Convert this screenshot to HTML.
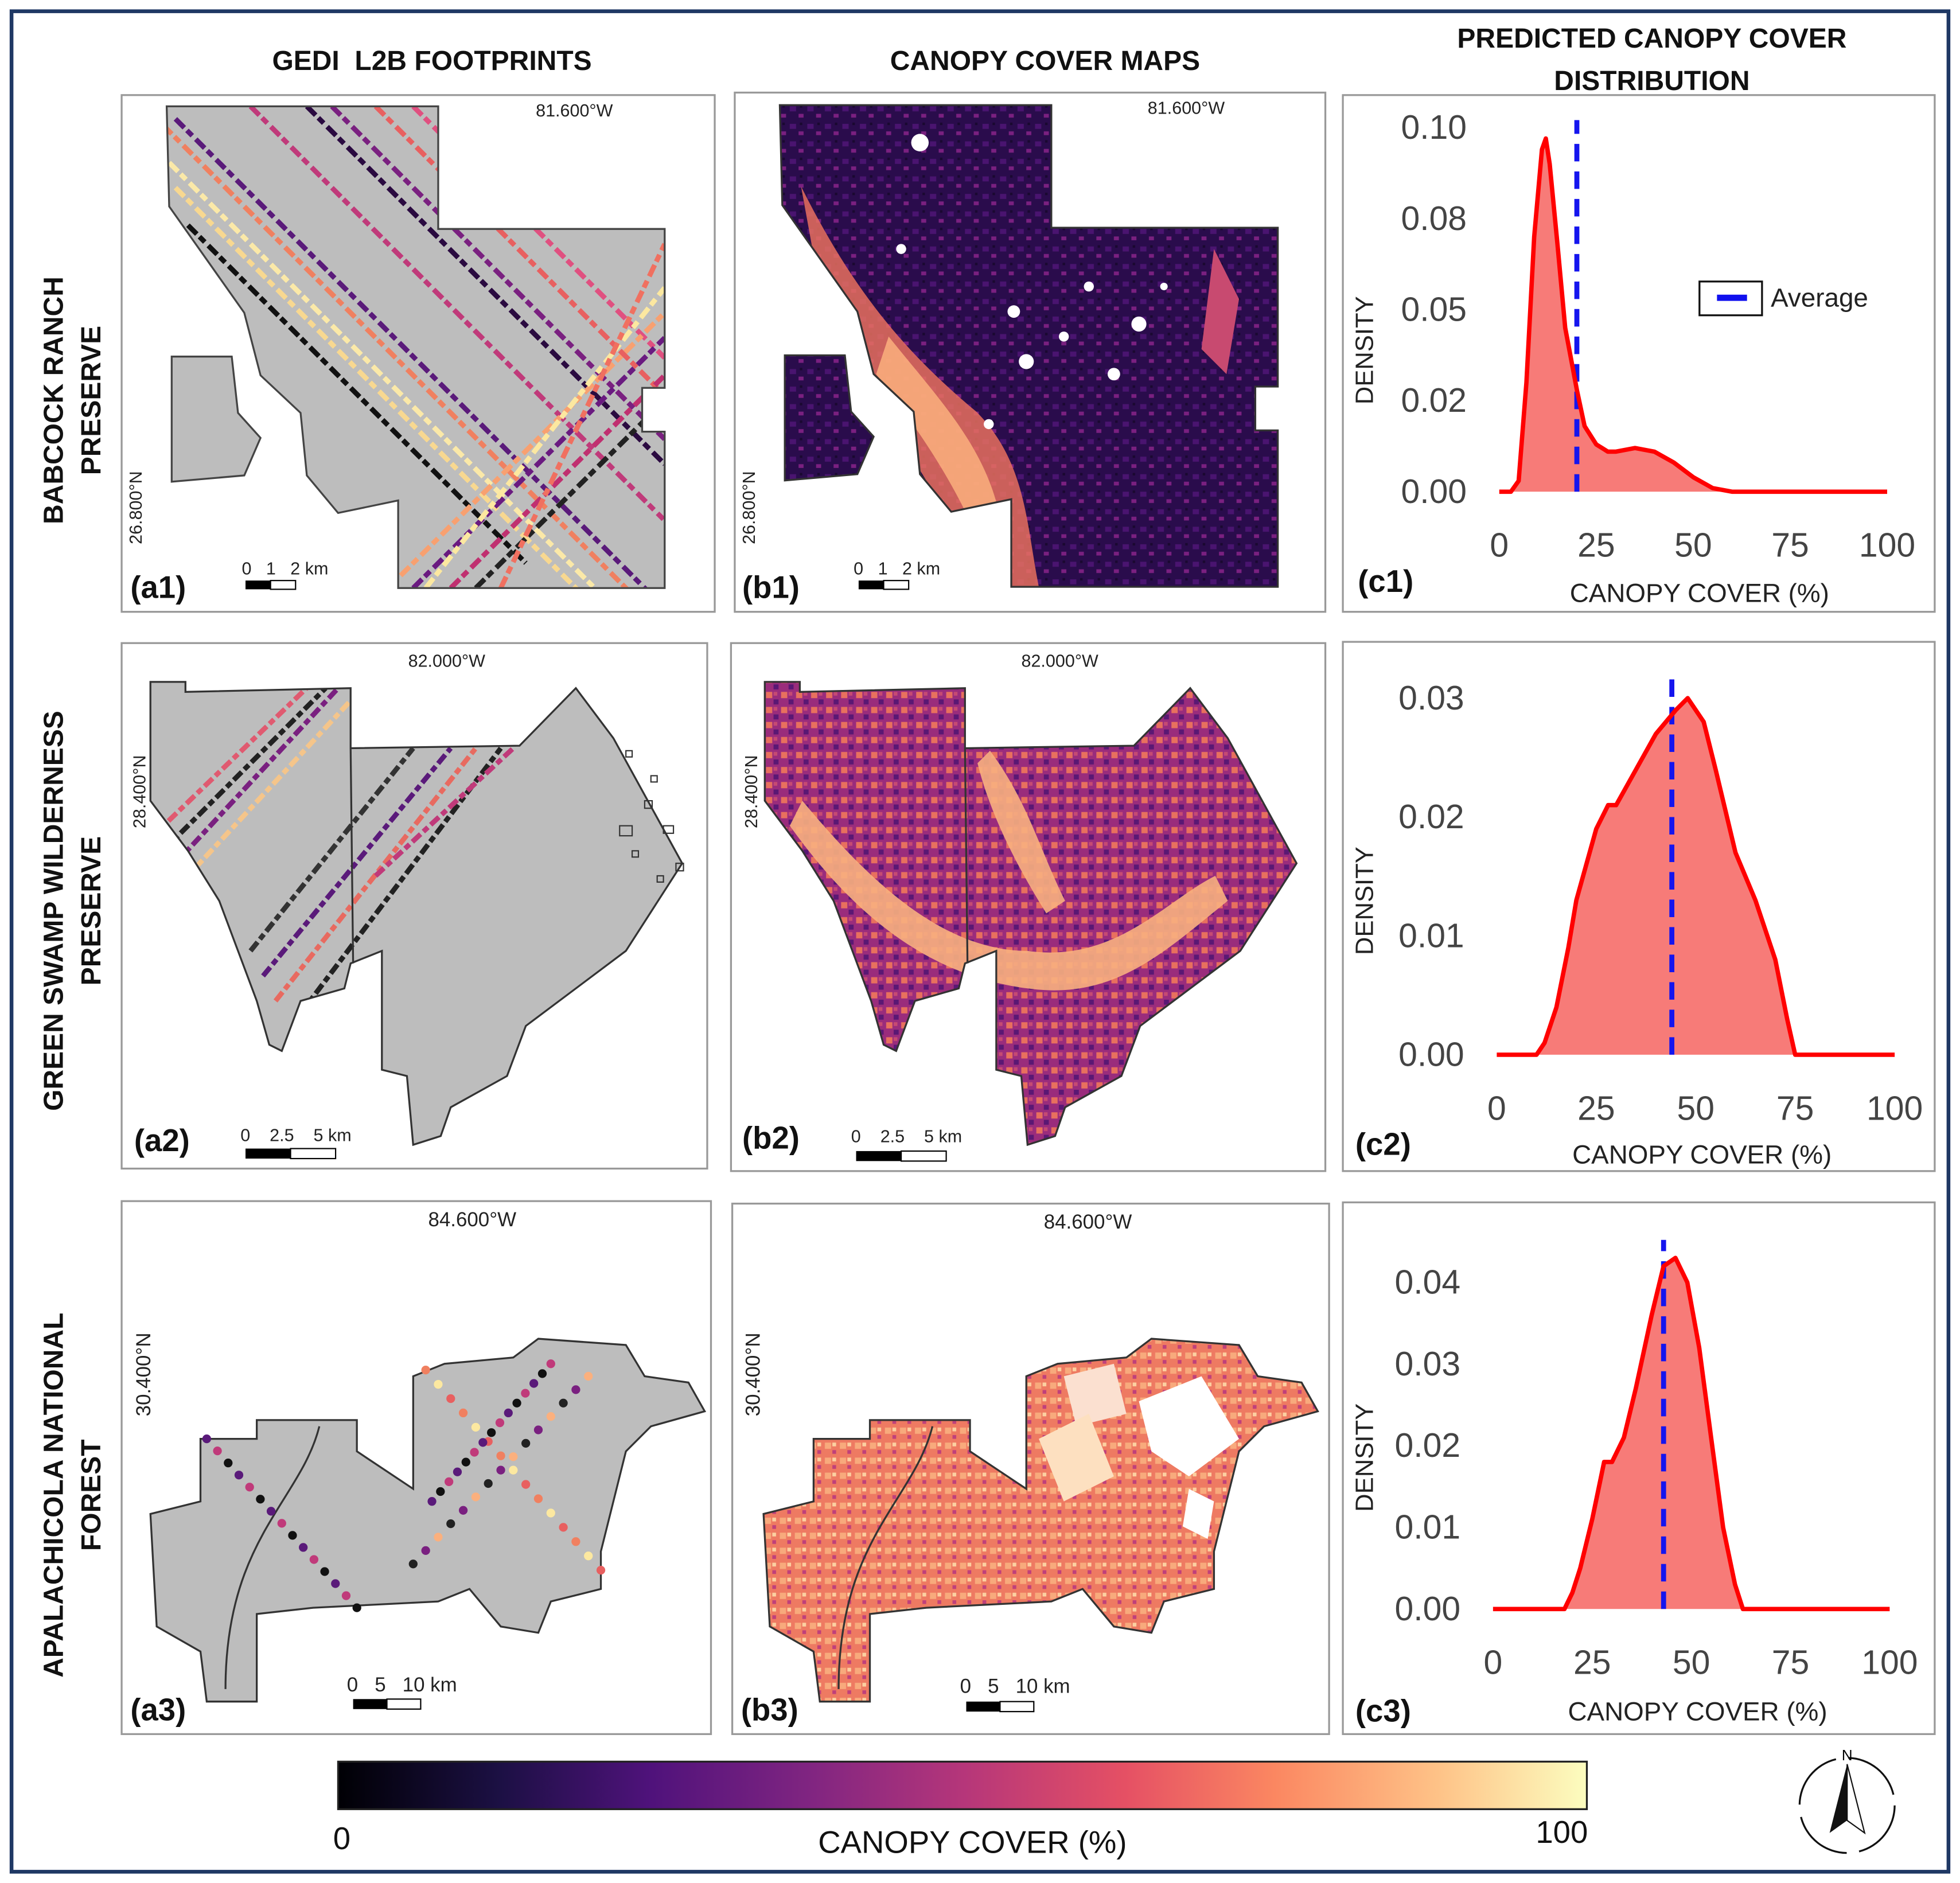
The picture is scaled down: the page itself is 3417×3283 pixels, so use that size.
<!DOCTYPE html>
<html><head><meta charset="utf-8"><style>
html,body{margin:0;padding:0;background:#fff}
svg{display:block}
text{font-family:"Liberation Sans",sans-serif;white-space:pre}
</style></head><body>
<svg id="fig" width="3417" height="3283" viewBox="0 0 1566 1505" xmlns="http://www.w3.org/2000/svg">
<defs>
<linearGradient id="magma" x1="0" x2="1" y1="0" y2="0">
<stop offset="0" stop-color="#000004"/><stop offset="0.13" stop-color="#1c1044"/><stop offset="0.25" stop-color="#4f127b"/><stop offset="0.38" stop-color="#812581"/><stop offset="0.5" stop-color="#b5367a"/><stop offset="0.63" stop-color="#e55064"/><stop offset="0.75" stop-color="#fb8761"/><stop offset="0.88" stop-color="#fec287"/><stop offset="1" stop-color="#fcfdbf"/>
</linearGradient>
<clipPath id="cpA1"><path id="pA1" d="M133,85 L350,85 L350,183 L531,183 L531,310 L513,310 L513,345 L531,345 L531,470 L318,470 L318,400 L270,410 L245,380 L240,330 L208,300 L195,250 L135,165 Z M137,285 L185,285 L190,330 L208,350 L195,380 L137,385 Z"/></clipPath>
<clipPath id="cpA2"><path d="M120,545 L148,545 L148,553 L280,550 L280,598 L415,596 L460,550 L490,590 L545,690 L500,760 L420,820 L405,860 L360,885 L352,908 L330,915 L325,860 L305,855 L305,760 L280,770 L275,790 L240,800 L225,840 L215,835 L205,800 L190,760 L175,720 L150,680 L120,640 Z"/></clipPath>
<clipPath id="cpA3"><path d="M160,1150 L205,1150 L205,1135 L285,1135 L285,1160 L330,1190 L330,1100 L355,1090 L410,1085 L430,1070 L500,1075 L515,1100 L550,1105 L563,1128 L520,1140 L500,1160 L480,1240 L480,1270 L440,1280 L430,1305 L400,1300 L375,1270 L350,1280 L250,1285 L205,1290 L205,1360 L165,1360 L160,1320 L125,1300 L120,1210 L160,1200 Z"/></clipPath>
<pattern id="texB1" width="14" height="14" patternUnits="userSpaceOnUse"><rect width="14" height="14" fill="#2a0c4c"/><rect x="1" y="2" width="5" height="4" fill="#4a1470"/><rect x="8" y="8" width="4" height="3" fill="#7a2080"/><rect x="9" y="1" width="2" height="2" fill="#1a0830"/></pattern>
<pattern id="texB2" width="12" height="12" patternUnits="userSpaceOnUse"><rect width="12" height="12" fill="#9a2c7c"/><rect x="1" y="1" width="5" height="5" fill="#e8705e"/><rect x="7" y="7" width="4" height="4" fill="#5a1874"/><rect x="7" y="1" width="3" height="3" fill="#c64a72"/></pattern>
<pattern id="texB3" width="12" height="12" patternUnits="userSpaceOnUse"><rect width="12" height="12" fill="#ee7a62"/><rect x="1" y="1" width="5" height="5" fill="#f8aa7c"/><rect x="7" y="7" width="3" height="3" fill="#c0407a"/><rect x="7" y="1" width="3" height="3" fill="#fcd0a0"/></pattern>
</defs>

<rect x="9" y="9" width="1548" height="1487" fill="none" stroke="#1f3864" stroke-width="3"/>

<g font-weight="bold" font-size="22" fill="#111" text-anchor="middle">
<text x="345" y="56">GEDI  L2B FOOTPRINTS</text>
<text x="835" y="56">CANOPY COVER MAPS</text>
<text x="1320" y="38">PREDICTED CANOPY COVER</text>
<text x="1320" y="72">DISTRIBUTION</text>
<text transform="translate(50,320) rotate(-90)">BABCOCK RANCH</text>
<text transform="translate(80,320) rotate(-90)">PRESERVE</text>
<text transform="translate(50,728) rotate(-90)">GREEN SWAMP WILDERNESS</text>
<text transform="translate(80,728) rotate(-90)">PRESERVE</text>
<text transform="translate(50,1195) rotate(-90)">APALACHICOLA NATIONAL</text>
<text transform="translate(80,1195) rotate(-90)">FOREST</text>
</g>

<g fill="none" stroke="#999" stroke-width="1.5">
<rect x="97" y="76" width="474" height="413"/>
<rect x="587" y="74" width="472" height="415"/>
<rect x="1073" y="76" width="473" height="413"/>
<rect x="97" y="514" width="468" height="420"/>
<rect x="584" y="514" width="475" height="422"/>
<rect x="1073" y="513" width="473" height="423"/>
<rect x="97" y="960" width="471" height="426"/>
<rect x="585" y="962" width="477" height="424"/>
<rect x="1073" y="961" width="473" height="425"/>
</g>

<!-- a1 -->
<g>
<g clip-path="url(#cpA1)"><rect x="97" y="76" width="474" height="413" fill="#bdbdbd"/>
<g stroke-width="4" fill="none" stroke-dasharray="10 3 6 4">
<line x1="130" y1="100" x2="520" y2="490" stroke="#f08060"/><line x1="140" y1="95" x2="530" y2="485" stroke="#5a1a7a"/>
<line x1="135" y1="130" x2="480" y2="475" stroke="#fbe9a8"/><line x1="140" y1="150" x2="470" y2="480" stroke="#f8d890"/>
<line x1="150" y1="180" x2="420" y2="450" stroke="#111"/><line x1="200" y1="85" x2="530" y2="415" stroke="#c03a7a"/>
<line x1="245" y1="85" x2="531" y2="371" stroke="#2a0a40"/><line x1="265" y1="85" x2="531" y2="351" stroke="#7a2080"/>
<line x1="300" y1="85" x2="531" y2="316" stroke="#e86060"/><line x1="330" y1="85" x2="531" y2="286" stroke="#e05080"/>
<line x1="320" y1="460" x2="531" y2="250" stroke="#f8a070"/><line x1="330" y1="470" x2="531" y2="270" stroke="#6a1a80"/>
<line x1="340" y1="470" x2="531" y2="230" stroke="#fce8a0"/><line x1="360" y1="470" x2="531" y2="300" stroke="#c03070"/>
<line x1="380" y1="470" x2="531" y2="320" stroke="#222"/><line x1="400" y1="470" x2="531" y2="195" stroke="#f07060"/>
</g></g>
<use href="#pA1" fill="none" stroke="#444" stroke-width="1.5"/>
</g>
<!-- b1 -->
<g transform="translate(490,-1)">
<g clip-path="url(#cpA1)"><rect x="97" y="76" width="474" height="413" fill="url(#texB1)"/>
<path d="M150,150 C190,230 230,280 290,330 C330,370 330,420 340,470 L290,470 C270,400 210,330 170,260 Z" fill="#e8705e" opacity="0.85"/>
<path d="M220,270 C260,320 300,360 310,420 L295,440 C270,380 240,340 210,300 Z" fill="#fbb07e" opacity="0.85"/>
<path d="M480,200 L500,240 L490,300 L470,280 Z" fill="#c84a70"/>
<g fill="#fff"><circle cx="245" cy="115" r="7"/><circle cx="320" cy="250" r="5"/><circle cx="330" cy="290" r="6"/><circle cx="360" cy="270" r="4"/><circle cx="400" cy="300" r="5"/><circle cx="420" cy="260" r="6"/><circle cx="300" cy="340" r="4"/><circle cx="230" cy="200" r="4"/><circle cx="440" cy="230" r="3"/><circle cx="380" cy="230" r="4"/></g>
</g>
<use href="#pA1" fill="none" stroke="#333" stroke-width="1.5"/>
</g>

<!-- a2 -->
<g>
<g clip-path="url(#cpA2)"><rect x="97" y="514" width="468" height="420" fill="#bdbdbd"/>
<g stroke-width="4" fill="none" stroke-dasharray="9 3 5 3">
<line x1="120" y1="670" x2="250" y2="545" stroke="#e05a70"/><line x1="130" y1="680" x2="260" y2="550" stroke="#222"/>
<line x1="140" y1="690" x2="270" y2="550" stroke="#7a2080"/><line x1="150" y1="700" x2="280" y2="560" stroke="#f5c58a"/>
<line x1="200" y1="760" x2="330" y2="598" stroke="#333"/><line x1="210" y1="780" x2="360" y2="598" stroke="#5a1a7a"/>
<line x1="220" y1="800" x2="380" y2="598" stroke="#e86a60"/><line x1="240" y1="810" x2="400" y2="598" stroke="#222"/>
<line x1="300" y1="700" x2="410" y2="598" stroke="#c03a7a"/>
</g></g>
<path d="M120,545 L148,545 L148,553 L280,550 L280,598 L415,596 L460,550 L490,590 L545,690 L500,760 L420,820 L405,860 L360,885 L352,908 L330,915 L325,860 L305,855 L305,760 L280,770 L275,790 L240,800 L225,840 L215,835 L205,800 L190,760 L175,720 L150,680 L120,640 Z M280,598 L282,770" fill="none" stroke="#333" stroke-width="1.5"/>
<g fill="none" stroke="#333" stroke-width="1"><rect x="500" y="600" width="5" height="5"/><rect x="515" y="640" width="6" height="6"/><rect x="530" y="660" width="8" height="6"/><rect x="495" y="660" width="10" height="8"/><rect x="540" y="690" width="6" height="6"/><rect x="520" y="620" width="5" height="5"/><rect x="505" y="680" width="5" height="5"/><rect x="525" y="700" width="5" height="5"/></g>
</g>
<!-- b2 -->
<g transform="translate(491,0)">
<g clip-path="url(#cpA2)"><rect x="97" y="514" width="468" height="420" fill="url(#texB2)"/>
<path d="M150,640 C200,700 260,760 330,760 C400,770 440,720 480,700 L490,720 C440,760 400,800 330,790 C250,780 190,730 140,660 Z" fill="#f8b080" opacity="0.9"/>
<path d="M300,600 C330,640 340,680 360,720 L345,730 C320,690 300,650 290,610 Z" fill="#f8b080" opacity="0.9"/>
</g>
<path d="M120,545 L148,545 L148,553 L280,550 L280,598 L415,596 L460,550 L490,590 L545,690 L500,760 L420,820 L405,860 L360,885 L352,908 L330,915 L325,860 L305,855 L305,760 L280,770 L275,790 L240,800 L225,840 L215,835 L205,800 L190,760 L175,720 L150,680 L120,640 Z M280,598 L282,770" fill="none" stroke="#333" stroke-width="1.5"/>
</g>

<!-- a3 -->
<g>
<g clip-path="url(#cpA3)"><rect x="97" y="960" width="471" height="426" fill="#bdbdbd"/></g>
<path d="M160,1150 L205,1150 L205,1135 L285,1135 L285,1160 L330,1190 L330,1100 L355,1090 L410,1085 L430,1070 L500,1075 L515,1100 L550,1105 L563,1128 L520,1140 L500,1160 L480,1240 L480,1270 L440,1280 L430,1305 L400,1300 L375,1270 L350,1280 L250,1285 L205,1290 L205,1360 L165,1360 L160,1320 L125,1300 L120,1210 L160,1200 Z M255,1140 C240,1200 180,1230 180,1350" fill="none" stroke="#333" stroke-width="1.5"/>
<g id="dots3"></g>
</g>
<!-- b3 -->
<g transform="translate(490,0)">
<g clip-path="url(#cpA3)"><rect x="97" y="960" width="471" height="426" fill="url(#texB3)"/>
<path d="M420,1120 L470,1100 L500,1150 L460,1180 L430,1160 Z" fill="#ffffff"/>
<path d="M360,1100 L400,1090 L410,1130 L370,1140 Z" fill="#fbe0d0"/>
<path d="M340,1150 L380,1130 L400,1180 L360,1200 Z" fill="#fde0c0"/>
<path d="M460,1190 L480,1200 L475,1230 L455,1220 Z" fill="#fff"/>
</g>
<path d="M160,1150 L205,1150 L205,1135 L285,1135 L285,1160 L330,1190 L330,1100 L355,1090 L410,1085 L430,1070 L500,1075 L515,1100 L550,1105 L563,1128 L520,1140 L500,1160 L480,1240 L480,1270 L440,1280 L430,1305 L400,1300 L375,1270 L350,1280 L250,1285 L205,1290 L205,1360 L165,1360 L160,1320 L125,1300 L120,1210 L160,1200 Z M255,1140 C240,1200 180,1230 180,1350" fill="none" stroke="#333" stroke-width="1.5"/>
</g>

<g font-size="14" fill="#222">
<text x="428" y="93">81.600°W</text>
<text x="917" y="91">81.600°W</text>
<text x="326" y="533">82.000°W</text>
<text x="816" y="533">82.000°W</text>
<text x="342" y="980" font-size="16">84.600°W</text>
<text x="834" y="982" font-size="16">84.600°W</text>
<text transform="translate(113,435) rotate(-90)">26.800°N</text>
<text transform="translate(603,435) rotate(-90)">26.800°N</text>
<text transform="translate(116,662) rotate(-90)">28.400°N</text>
<text transform="translate(605,662) rotate(-90)">28.400°N</text>
<text transform="translate(120,1132) rotate(-90)" font-size="16">30.400°N</text>
<text transform="translate(607,1132) rotate(-90)" font-size="16">30.400°N</text>
</g>
<g font-size="14" fill="#222">
<text x="193" y="459">0   1   2 km</text><rect x="196" y="464" width="20" height="7" fill="#000"/><rect x="216" y="464" width="20" height="7" fill="#fff" stroke="#000"/>
<text x="682" y="459">0   1   2 km</text><rect x="686" y="464" width="20" height="7" fill="#000"/><rect x="706" y="464" width="20" height="7" fill="#fff" stroke="#000"/>
<text x="192" y="912">0    2.5    5 km</text><rect x="196" y="918" width="36" height="8" fill="#000"/><rect x="232" y="918" width="36" height="8" fill="#fff" stroke="#000"/>
<text x="680" y="913">0    2.5    5 km</text><rect x="684" y="920" width="36" height="8" fill="#000"/><rect x="720" y="920" width="36" height="8" fill="#fff" stroke="#000"/>
<text x="277" y="1352" font-size="16">0   5   10 km</text><rect x="282" y="1358" width="27" height="8" fill="#000"/><rect x="309" y="1358" width="27" height="8" fill="#fff" stroke="#000"/>
<text x="767" y="1353" font-size="16">0   5   10 km</text><rect x="772" y="1360" width="27" height="8" fill="#000"/><rect x="799" y="1360" width="27" height="8" fill="#fff" stroke="#000"/>
</g>
<g font-size="25" font-weight="bold" fill="#111">
<text x="104" y="478">(a1)</text>
<text x="593" y="478">(b1)</text>
<text x="1085" y="473">(c1)</text>
<text x="107" y="920">(a2)</text>
<text x="593" y="918">(b2)</text>
<text x="1083" y="923">(c2)</text>
<text x="104" y="1375">(a3)</text>
<text x="592" y="1375">(b3)</text>
<text x="1083" y="1376">(c3)</text>
</g>

<g id="charts"></g>

<rect x="1358" y="225" width="50" height="27" fill="#fff" stroke="#111" stroke-width="1.5"/>
<line x1="1372" y1="238" x2="1396" y2="238" stroke="#1010ee" stroke-width="5"/>
<text x="1415" y="245" font-size="21" fill="#222">Average</text>

<rect x="270" y="1408" width="998" height="38" fill="url(#magma)" stroke="#222" stroke-width="1.5"/>
<text x="273" y="1478" font-size="25" text-anchor="middle" fill="#111">0</text>
<text x="1248" y="1473" font-size="25" text-anchor="middle" fill="#111">100</text>
<text x="777" y="1481" font-size="25" text-anchor="middle" fill="#111">CANOPY COVER (%)</text>

<g>
<circle cx="1476" cy="1443" r="38" fill="none" stroke="#111" stroke-width="1.5" stroke-dasharray="50 10"/>
<path d="M1476,1410 L1462,1465 L1476,1455 Z" fill="#111"/><path d="M1476,1410 L1490,1465 L1476,1455 Z" fill="#fff" stroke="#111"/>
<text x="1476" y="1407" font-size="12" text-anchor="middle">N</text>
</g>
</svg>
<script>
var ns="http://www.w3.org/2000/svg";
// chart c1
var c1X=[0,3,5,7,9,11,12,13,15,17,20,22,25,28,30,35,40,45,50,55,60,70,80,100];
var c1Y=[0,0,0.003,0.03,0.07,0.094,0.097,0.09,0.068,0.045,0.028,0.018,0.013,0.011,0.011,0.012,0.011,0.008,0.004,0.001,0,0,0,0];
var c1Avg=20;
var c1YTicks=[0,0.025,0.05,0.075,0.1];
var c1YLabels=["0.00","0.02","0.05","0.08","0.10"];
// chart c2
var c2X=[0,5,10,12,15,18,20,25,28,30,35,40,45,48,52,55,60,65,70,73,75,80,100];
var c2Y=[0,0,0,0.001,0.004,0.009,0.013,0.019,0.021,0.021,0.024,0.027,0.029,0.030,0.028,0.024,0.017,0.013,0.008,0.003,0,0,0];
var c2Avg=44;
var c2YTicks=[0,0.01,0.02,0.03];
var c2YLabels=["0.00","0.01","0.02","0.03"];
// chart c3
var c3X=[0,10,18,20,22,25,28,30,33,36,40,43,46,49,52,55,58,61,63,70,100];
var c3Y=[0,0,0,0.002,0.005,0.011,0.018,0.018,0.021,0.027,0.036,0.042,0.043,0.040,0.032,0.021,0.010,0.003,0,0,0];
var c3Avg=43;
var c3YTicks=[0,0.01,0.02,0.03,0.04];
var c3YLabels=["0.00","0.01","0.02","0.03","0.04"];
var xTicks=[0,25,50,75,100];
var xTickLabels=["0","25","50","75","100"];

function mk(tag,attrs,parent){var e=document.createElementNS(ns,tag);for(var k in attrs)e.setAttribute(k,attrs[k]);parent.appendChild(e);return e;}
var root=document.getElementById('charts');
function chart(id,X,Y,avg,yt,yl,box,ymax){
  var g=mk('g',{},root);
  
  
  function sx(v){return box.x0+(box.x1-box.x0)*v/100;}
  function sy(v){return box.y0-(box.y0-box.y1)*v/ymax;}
  var d="";for(var i=0;i<X.length;i++){d+=(i?"L":"M")+sx(X[i]).toFixed(1)+","+sy(Y[i]).toFixed(1);}
  var area=mk('path',{d:d+"L"+sx(X[X.length-1])+","+sy(0)+"L"+sx(X[0])+","+sy(0)+"Z",fill:"#f77b78"},g);
  
  
  var av=mk('line',{x1:sx(avg),x2:sx(avg),y1:sy(0),y2:box.yTop,stroke:"#1515ee","stroke-width":4,"stroke-dasharray":"14 8"},g);
  
  
  var ln=mk('path',{d:d,fill:"none",stroke:"#ff0000","stroke-width":3.5,"stroke-linejoin":"round"},g);
  
  
  for(var j=0;j<yt.length;j++){var t=mk('text',{x:box.x0-26,y:sy(yt[j])+9,"font-size":27,fill:"#444","text-anchor":"end"},g);t.textContent=yl[j];
    
    }
  for(var k=0;k<xTicks.length;k++){var t2=mk('text',{x:sx(xTicks[k]),y:box.y0+52,"font-size":27,fill:"#444","text-anchor":"middle"},g);t2.textContent=xTickLabels[k];
    
    }
  var yt2=mk('text',{transform:"translate("+box.dx+","+box.dy+") rotate(-90)","font-size":20,fill:"#222","text-anchor":"middle"},g);yt2.textContent="DENSITY";
  
  
  var xt=mk('text',{x:(box.x0+box.x1)/2+5,y:box.xty,"font-size":21,fill:"#222","text-anchor":"middle"},g);xt.textContent="CANOPY COVER (%)";
  
  
}
chart('c1',c1X,c1Y,c1Avg,c1YTicks,c1YLabels,{x0:1198,x1:1508,y0:393,y1:102,yTop:96,dx:1097,dy:280,xty:481},0.1);
chart('c2',c2X,c2Y,c2Avg,c2YTicks,c2YLabels,{x0:1196,x1:1514,y0:843,y1:558,yTop:543,dx:1097,dy:720,xty:930},0.03);
chart('c3',c3X,c3Y,c3Avg,c3YTicks,c3YLabels,{x0:1193,x1:1510,y0:1286,y1:1025,yTop:991,dx:1097,dy:1165,xty:1375},0.04);

// footprint dots on a3 (decorative tracks)
var trackStarts=[[165,1150],[340,1095],[330,1250],[440,1090]];
var trackEnds=[[285,1285],[480,1255],[470,1100],[345,1200]];
var dotCols=["#5a1a7a","#f08060","#222","#c03a7a","#fce8a0","#7a2080","#111","#e86060","#fbb07e"];
var dg=document.getElementById('dots3');
for(var t=0;t<trackStarts.length;t++){
  for(var q=0;q<=14;q++){
    var f=q/14;
    var c=mk('circle',{cx:trackStarts[t][0]+(trackEnds[t][0]-trackStarts[t][0])*f,cy:trackStarts[t][1]+(trackEnds[t][1]-trackStarts[t][1])*f,r:3.5,fill:dotCols[(q*3+t)%dotCols.length]},dg);
    
    
  }
}
</script>
</body></html>
